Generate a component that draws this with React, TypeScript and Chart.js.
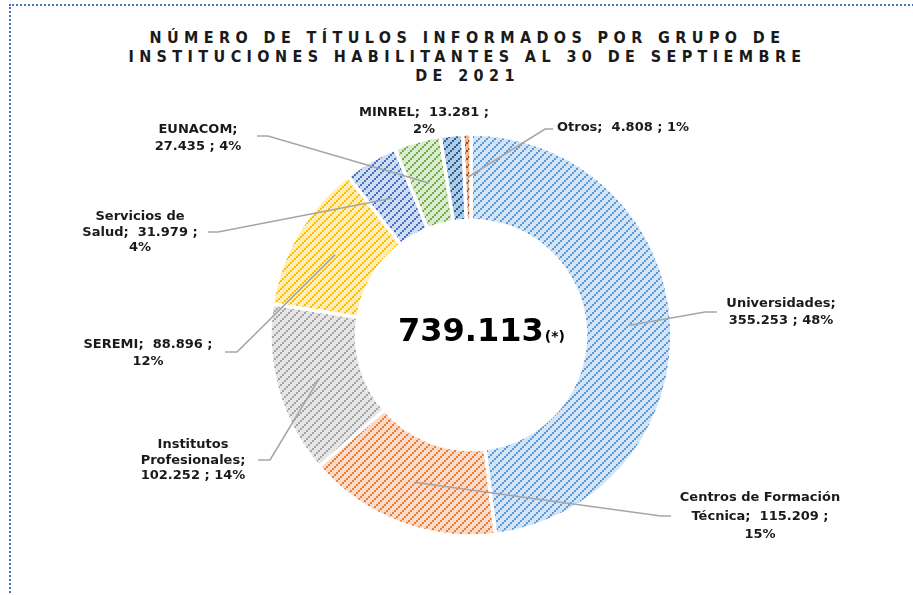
import React, { useEffect, useRef } from "react";
import { Chart, registerables } from "chart.js";

Chart.register(...registerables);

// ---------- data ----------
const categories = [
  "Universidades",
  "Centros de Formación Técnica",
  "Institutos Profesionales",
  "SEREMI",
  "Servicios de Salud",
  "EUNACOM",
  "MINREL",
  "Otros",
];
const values = [355253, 115209, 102252, 88896, 31979, 27435, 13281, 4808];
const percentLabels = ["48%", "15%", "14%", "12%", "4%", "4%", "2%", "1%"];
const titleLines = [
  "NÚMERO DE TÍTULOS INFORMADOS POR GRUPO DE",
  "INSTITUCIONES HABILITANTES AL 30 DE SEPTIEMBRE",
  "DE 2021",
];
const centerNote = "(*)";

// ---------- styles ----------
const fgColors = ["#5B9BD5", "#ED7D31", "#A5A5A5", "#FFC000", "#4472C4", "#70AD47", "#255E91", "#9E480E"];
const bgColors = ["#D2E4F5", "#FADACA", "#E6E6E6", "#FFEDB8", "#D0DCF1", "#DAEBCF", "#B0CBE6", "#EDB896"];

// words per line for each data label (wrapping)
const labelBreaks = [[1, 3], [3, 3, 1], [1, 1, 3], [3, 1], [2, 3, 1], [1, 3], [3, 1], [4]];
// label layout: text anchor, alignment, leader elbow / end
const labelLayout = [
  { x: 781, y: 304, lh: 17, align: "center", elbow: [705, 312], end: [717, 312] },
  { x: 760, y: 498, lh: 18.5, align: "center", elbow: [661, 516], end: [671, 516] },
  { x: 193, y: 445, lh: 15.5, align: "center", elbow: [270, 460], end: [258, 460] },
  { x: 148, y: 345, lh: 17, align: "center", elbow: [237, 352], end: [225, 352] },
  { x: 140, y: 217, lh: 15.5, align: "center", elbow: [218, 232], end: [208, 232] },
  { x: 198, y: 130, lh: 16.5, align: "center", elbow: [268, 136], end: [257, 136] },
  { x: 424, y: 113, lh: 17, align: "center", elbow: null, end: null },
  { x: 557, y: 128, lh: 17, align: "left", elbow: [545, 129], end: [553, 129] },
];

const fmt = (n: number) => n.toString().replace(/\B(?=(\d{3})+(?!\d))/g, ".");

function makePattern(fg: string, bg: string): CanvasPattern | string {
  const c = document.createElement("canvas");
  const N = 8;
  c.width = N;
  c.height = N;
  const g = c.getContext("2d");
  if (!g) return fg;
  g.fillStyle = bg;
  g.fillRect(0, 0, N, N);
  g.fillStyle = fg;
  for (let y = 0; y < N; y++) {
    for (let x = 0; x < N; x++) {
      if ((Math.floor(x / 2) + Math.floor(y / 2)) % 4 === 0) g.fillRect(x, y, 1, 1);
    }
  }
  return g.createPattern(c, "repeat") || fg;
}

function labelWords(i: number): string[] {
  const parts = categories[i].split(" ");
  parts[parts.length - 1] = parts[parts.length - 1] + "; ";
  return [...parts, fmt(values[i]), ";", percentLabels[i]];
}

const labelPlugin = {
  id: "outerLabels",
  afterDatasetsDraw(chart: any) {
    const ctx: CanvasRenderingContext2D = chart.ctx;
    const meta = chart.getDatasetMeta(0);
    ctx.save();
    meta.data.forEach((arc: any, i: number) => {
      const L = labelLayout[i];
      if (L.elbow && L.end) {
        const p = arc.getCenterPoint();
        ctx.beginPath();
        ctx.strokeStyle = "#A6A6A6";
        ctx.lineWidth = 1.6;
        ctx.moveTo(p.x, p.y);
        ctx.lineTo(L.elbow[0], L.elbow[1]);
        ctx.lineTo(L.end[0], L.end[1]);
        ctx.stroke();
      }
      const words = labelWords(i);
      const lines: string[] = [];
      let k = 0;
      labelBreaks[i].forEach((n) => {
        lines.push(words.slice(k, k + n).join(" ").trim());
        k += n;
      });
      ctx.font = 'bold 13px "DejaVu Sans", Verdana, sans-serif';
      ctx.fillStyle = "#1A1A1A";
      ctx.textAlign = L.align as CanvasTextAlign;
      ctx.textBaseline = "middle";
      lines.forEach((ln, j) => ctx.fillText(ln, L.x, L.y + j * L.lh));
    });

    // center total
    const total = values.reduce((a, b) => a + b, 0);
    const arc0 = meta.data[0];
    const cx = arc0.x;
    const cy = arc0.y;
    const big = fmt(total);
    ctx.textBaseline = "alphabetic";
    ctx.textAlign = "left";
    ctx.font = 'bold 32px "DejaVu Sans", Verdana, sans-serif';
    const wBig = ctx.measureText(big).width;
    ctx.font = 'bold 14px "DejaVu Sans", Verdana, sans-serif';
    const wSmall = ctx.measureText(centerNote).width;
    const x0 = cx + 10 - (wBig + wSmall) / 2;
    ctx.fillStyle = "#000000";
    ctx.font = 'bold 32px "DejaVu Sans", Verdana, sans-serif';
    ctx.fillText(big, x0, cy + 6);
    ctx.font = 'bold 14px "DejaVu Sans", Verdana, sans-serif';
    ctx.fillText(centerNote, x0 + wBig + 1, cy + 6);
    ctx.restore();
  },
};

export default function App() {
  const canvasRef = useRef<HTMLCanvasElement | null>(null);

  useEffect(() => {
    const canvas = canvasRef.current;
    if (!canvas) return;
    const patterns = fgColors.map((fg, i) => makePattern(fg, bgColors[i]));
    const chart = new Chart(canvas, {
      type: "doughnut",
      data: {
        labels: categories,
        datasets: [
          {
            data: values,
            backgroundColor: patterns as any,
            borderColor: "#FFFFFF",
            borderWidth: 3.5,
          },
        ],
      },
      options: {
        responsive: false,
        animation: false,
        events: [],
        radius: 201,
        cutout: "57%",
        layout: { padding: { left: 29, top: 75, right: 0, bottom: 0 } },
        plugins: {
          legend: { display: false },
          tooltip: { enabled: false },
          title: { display: false },
        },
      } as any,
      plugins: [labelPlugin],
    });
    return () => chart.destroy();
  }, []);

  return (
    <div style={{ position: "fixed", left: 0, top: 0, width: 913, height: 595, overflow: "hidden", background: "#FFFFFF" }}>
      <div
        style={{
          position: "absolute",
          left: 9,
          top: 4,
          width: 2000,
          height: 2000,
          border: "2px dotted #4472C4",
          boxSizing: "border-box",
        }}
      />
      <div
        style={{
          position: "absolute",
          left: 0,
          top: 28,
          width: 930,
          textAlign: "center",
          font: 'bold 16px "Liberation Sans Narrow", "Arial Narrow", "DejaVu Sans Condensed", "Liberation Sans", Arial, sans-serif',
          letterSpacing: "5.4px",
          lineHeight: "19px",
          color: "#1A1A1A",
          paddingLeft: 5,
          boxSizing: "border-box",
        }}
      >
        {titleLines.map((t, i) => (
          <div key={i}>{t}</div>
        ))}
      </div>
      <canvas ref={canvasRef} width={913} height={595} style={{ position: "absolute", left: 0, top: 0 }} />
    </div>
  );
}
